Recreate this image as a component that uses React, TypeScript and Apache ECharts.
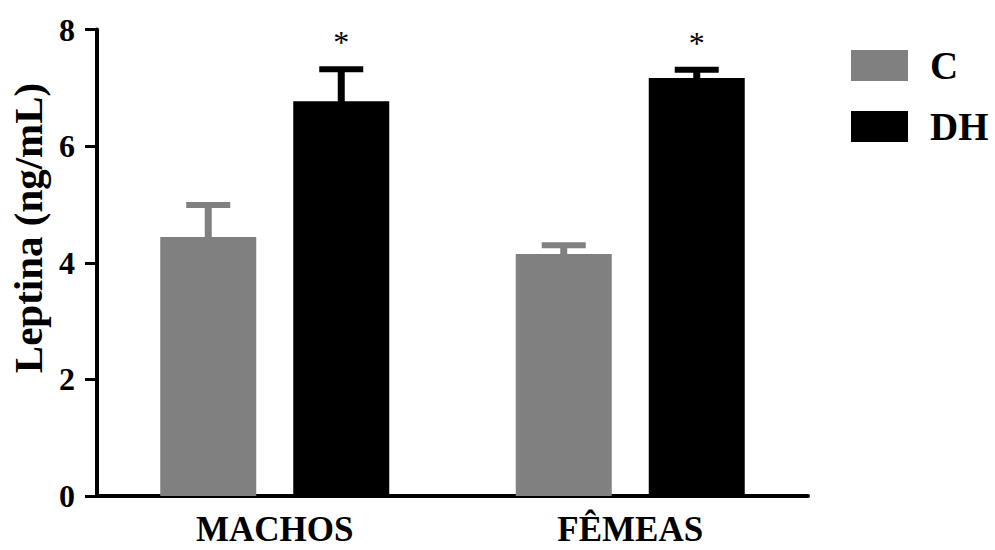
import React, { useEffect, useRef } from "react";
import * as echarts from "echarts";

const categories = ["MACHOS", "FÊMEAS"];
const seriesNames = ["C", "DH"];
const cMeans = [4.44, 4.15];
const cErrTop = [4.99, 4.3];
const dhMeans = [6.77, 7.17];
const dhErrTop = [7.32, 7.31];
const dhSignificant = [1, 1];
const yTicks = { min: 0, max: 8, interval: 2 };

const FONT = "Liberation Serif";
const GRAY = "#808080";
const BLACK = "#000000";
const BAR_W = 96;
const GAP_PX = 37;

export default function App() {
  const ref = useRef<HTMLDivElement>(null);
  useEffect(() => {
    if (!ref.current) return;
    document.body.style.margin = "0";
    const chart = echarts.init(ref.current, undefined, { renderer: "svg" });
    const offset = (BAR_W + GAP_PX) / 2;
    const errData: number[][] = [];
    categories.forEach((_, i) => {
      errData.push([i, cErrTop[i], cMeans[i], 0, 0]);
      errData.push([i, dhErrTop[i], dhMeans[i], 1, dhSignificant[i]]);
    });
    chart.setOption({
      animation: false,
      backgroundColor: "#fff",
      grid: { left: 97, right: 187, top: 29.5, bottom: 54 },
      legend: {
        orient: "vertical",
        left: 851,
        top: 46,
        padding: 0,
        data: seriesNames,
        icon: "rect",
        itemWidth: 57,
        itemHeight: 31,
        itemGap: 22,
        textStyle: {
          fontFamily: FONT,
          fontWeight: "bold",
          fontSize: 39,
          color: BLACK,
          lineHeight: 31,
          padding: [0, 0, 0, 17],
        },
      },
      xAxis: {
        type: "category",
        data: categories,
        axisLine: { lineStyle: { color: BLACK, width: 4 } },
        axisTick: { alignWithLabel: true, length: 13, lineStyle: { color: BLACK, width: 3 } },
        axisLabel: { fontFamily: FONT, fontWeight: "bold", fontSize: 35, color: BLACK, margin: 17, lineHeight: 32 },
      },
      yAxis: {
        type: "value",
        min: yTicks.min,
        max: yTicks.max,
        interval: yTicks.interval,
        axisLine: { show: true, lineStyle: { color: BLACK, width: 4 } },
        axisTick: { show: true, length: 12, lineStyle: { color: BLACK, width: 3 } },
        splitLine: { show: false },
        axisLabel: { fontFamily: FONT, fontWeight: "bold", fontSize: 32, color: BLACK, margin: 22 },
      },
      graphic: [
        {
          type: "text",
          x: 28,
          y: 228,
          rotation: Math.PI / 2,
          style: {
            text: "Leptina (ng/mL)",
            fontFamily: FONT,
            fontWeight: "bold",
            fontSize: 41,
            fill: BLACK,
            textAlign: "center",
            textVerticalAlign: "middle",
          },
        },
      ],
      series: [
        {
          name: "C",
          type: "bar",
          data: cMeans,
          barWidth: BAR_W,
          barGap: (GAP_PX / BAR_W) * 100 + "%",
          itemStyle: { color: GRAY },
        },
        {
          name: "DH",
          type: "bar",
          data: dhMeans,
          barWidth: BAR_W,
          itemStyle: { color: BLACK },
        },
        {
          type: "custom",
          name: "err",
          data: errData,
          z: 10,
          renderItem: (params: any, api: any) => {
            const idx = api.value(0);
            const top = api.value(1);
            const mean = api.value(2);
            const grp = api.value(3);
            const star = api.value(4);
            const base = api.coord([idx, mean]);
            const tp = api.coord([idx, top]);
            const x = base[0] + (grp ? offset : -offset);
            const color = grp ? BLACK : GRAY;
            const children: any[] = [
              { type: "rect", shape: { x: x - 3.5, y: tp[1], width: 7, height: base[1] - tp[1] + 1 }, style: { fill: color } },
              { type: "rect", shape: { x: x - 22, y: tp[1] - 3, width: 44, height: 6 }, style: { fill: color } },
            ];
            if (star) {
              children.push({
                type: "text",
                x: x,
                y: tp[1] - 27,
                style: {
                  text: "*",
                  fontFamily: FONT,
                  fontSize: 32,
                  fill: BLACK,
                  textAlign: "center",
                  textVerticalAlign: "middle",
                },
              });
            }
            return { type: "group", children };
          },
        },
      ],
    });
    return () => chart.dispose();
  }, []);
  return <div ref={ref} style={{ width: 995, height: 550 }} />;
}
